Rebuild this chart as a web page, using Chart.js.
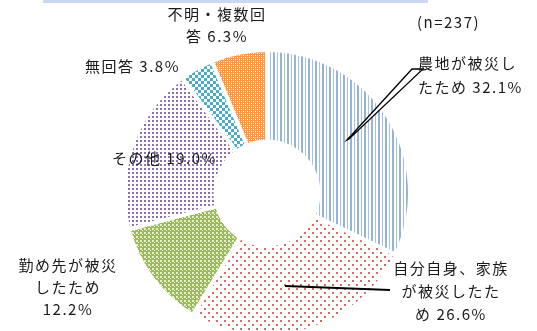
<!DOCTYPE html>
<html lang="ja">
<head>
<meta charset="utf-8">
<script src="https://cdn.jsdelivr.net/npm/chart.js@4"></script>
<style>
    html, body { margin: 0; padding: 0; background: #fff; overflow: hidden; }
    #wrap { width: 537px; height: 360px; position: relative; }
</style>
</head>
<body>
<div id="wrap"><canvas id="myPieChart"></canvas></div>
<script>
// データ（時計回り、上から）
const categories = ['農地が被災したため', '自分自身、家族が被災したため', '勤め先が被災したため', 'その他', '無回答', '不明・複数回答'];
const percents = [32.1, 26.6, 12.2, 19.0, 3.8, 6.3];
const sampleLabel = '(n=237)';
// ラベル文字（改行位置は元図のまま）
const labelLines = [
    ['農地が被災し', 'たため 32.1%'],
    ['自分自身、家族', 'が被災したた', 'め 26.6%'],
    ['勤め先が被災', 'したため', '12.2%'],
    ['その他 19.0%'],
    ['無回答 3.8%'],
    ['不明・複数回', '答 6.3%']
];

const ctx = document.getElementById('myPieChart').getContext('2d');

// 模様を作る
function makePattern(size, bg, draw) {
    const c = document.createElement('canvas');
    c.width = size;
    c.height = size;
    const p = c.getContext('2d');
    p.fillStyle = bg;
    p.fillRect(0, 0, size, size);
    draw(p);
    return ctx.createPattern(c, 'repeat');
}

const blueStripe = makePattern(7, '#ffffff', p => {
    p.fillStyle = '#95b3d9';
    p.fillRect(0, 0, 2, 7);
    p.fillStyle = '#a6bfe0';
    p.fillRect(4, 0, 1, 7);
});
const redDots = makePattern(8, '#ffffff', p => {
    p.fillStyle = '#d46a66';
    p.fillRect(0, 0, 2, 2);
    p.fillRect(4, 4, 2, 2);
});
const greenCheck = makePattern(4, '#9bbb59', p => {
    p.fillStyle = '#e2ecce';
    p.fillRect(0, 0, 2, 2);
    p.fillStyle = '#ffffff';
    p.fillRect(2, 2, 1, 1);
});
const purpleDots = makePattern(4, '#ffffff', p => {
    p.fillStyle = '#8a70ad';
    p.fillRect(0, 0, 2, 2);
});
const cyanCheck = makePattern(6, '#ffffff', p => {
    p.fillStyle = '#4bacc6';
    p.fillRect(0, 0, 3, 3);
    p.fillRect(3, 3, 3, 3);
});
const orangeGrid = makePattern(4, '#f79646', p => {
    p.fillStyle = '#ffffff';
    p.fillRect(1, 1, 1, 1);
    p.fillRect(3, 3, 1, 1);
    p.fillStyle = '#fcd4b4';
    p.fillRect(3, 1, 1, 1);
    p.fillRect(1, 3, 1, 1);
});

// ラベル・引出線を描く
const labelPlugin = {
    id: 'labelPlugin',
    afterDraw(chart) {
        const c = chart.ctx;
        c.save();
        // 上部の枠線
        c.fillStyle = '#c9d8ee';
        c.fillRect(43, 0, 385, 3);

        // 引出線
        c.strokeStyle = '#000';
        c.fillStyle = '#fff';
        c.lineWidth = 1.3;
        c.beginPath();
        c.moveTo(347, 140);
        c.lineTo(412, 69);
        c.lineTo(423, 69);
        c.lineTo(349, 139);
        c.closePath();
        c.fill();
        c.stroke();
        c.lineWidth = 2;
        c.beginPath();
        c.moveTo(285, 286);
        c.lineTo(390, 290);
        c.stroke();

        c.fillStyle = '#1a1a1a';
        c.font = '15px "Noto Sans CJK JP"';
        c.letterSpacing = '1.5px';
        c.textBaseline = 'middle';
        const pos = [
            { x: 418, y: 63, h: 24, align: 'left' },
            { x: 451, y: 268, h: 23, align: 'center' },
            { x: 68, y: 265, h: 22, align: 'center' },
            { x: 112, y: 158, h: 22, align: 'left' },
            { x: 85, y: 66, h: 22, align: 'left' },
            { x: 217, y: 14, h: 22, align: 'center' }
        ];
        labelLines.forEach((lines, i) => {
            c.textAlign = pos[i].align;
            lines.forEach((t, j) => {
                c.fillText(t, pos[i].x, pos[i].y + j * pos[i].h);
            });
        });
        c.textAlign = 'left';
        c.fillText(sampleLabel, 417, 22);
        c.restore();
    }
};

let myPieChart = new Chart(ctx, {
    type: 'doughnut',
    data: {
        labels: categories,
        datasets: [{
            data: percents,
            backgroundColor: [blueStripe, redDots, greenCheck, purpleDots, cyanCheck, orangeGrid],
            borderColor: '#ffffff',
            borderWidth: 4
        }]
    },
    options: {
        responsive: true,
        maintainAspectRatio: false,
        animation: false,
        cutout: '36%',
        layout: {
            padding: { top: 48, left: 122, right: 125, bottom: 22 }
        },
        plugins: {
            legend: { display: false },
            tooltip: { enabled: false }
        }
    },
    plugins: [labelPlugin]
});
</script>
</body>
</html>
